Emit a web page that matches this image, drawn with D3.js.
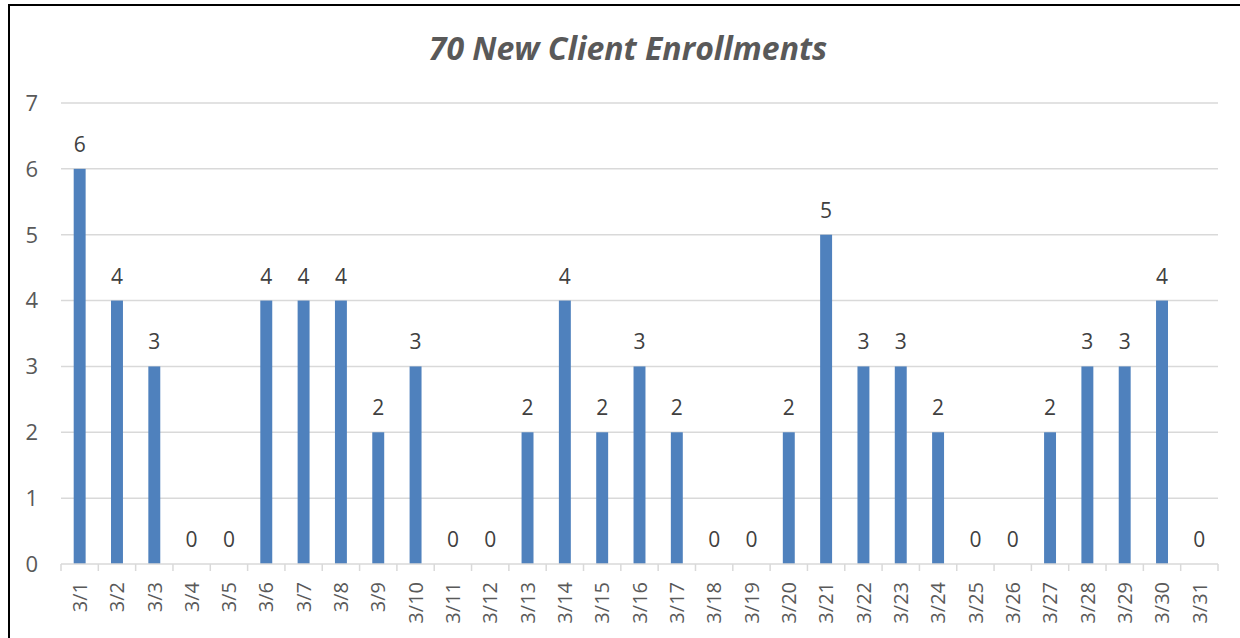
<!DOCTYPE html>
<html>
<head>
<meta charset="utf-8">
<script src="https://cdn.jsdelivr.net/npm/d3@7"></script>
<style>
  body { margin: 0; background: #fff; }
  svg { display: block; }
</style>
</head>
<body>
<svg id="chart"></svg>
<script>
var days = ["3/1","3/2","3/3","3/4","3/5","3/6","3/7","3/8","3/9","3/10",
            "3/11","3/12","3/13","3/14","3/15","3/16","3/17","3/18","3/19","3/20",
            "3/21","3/22","3/23","3/24","3/25","3/26","3/27","3/28","3/29","3/30","3/31"];
var enrollments = [6,4,3,0,0,4,4,4,2,3,
                   0,0,2,4,2,3,2,0,0,2,
                   5,3,3,2,0,0,2,3,3,4,0];
var yTicks = [0,1,2,3,4,5,6,7];
var title = "70 New Client Enrollments";

var screen = { width: 1240, height: 638 };
var margins = { top: 103, bottom: 74, left: 61, right: 22 };

var drawChart = function(idName, screen, margins)
{
  var graphWidth = screen.width - margins.left - margins.right;
  var graphHeight = screen.height - margins.top - margins.bottom;

  var svg = d3.select(idName)
      .attr("width", screen.width)
      .attr("height", screen.height);

  // frame
  svg.append("line")
      .attr("x1", 9).attr("x2", 9).attr("y1", 4).attr("y2", screen.height)
      .attr("stroke", "#000").attr("stroke-width", 2);
  svg.append("line")
      .attr("x1", 8).attr("x2", screen.width).attr("y1", 5).attr("y2", 5)
      .attr("stroke", "#000").attr("stroke-width", 2);

  svg.append("text")
      .attr("x", 628).attr("y", 60)
      .attr("text-anchor", "middle")
      .attr("font-family", "'Open Sans', sans-serif")
      .attr("font-size", 32)
      .attr("font-weight", "bold")
      .attr("font-style", "italic")
      .attr("fill", "#595959")
      .text(title);

  var x = d3.scaleBand()
      .domain(days)
      .range([0, graphWidth])
      .paddingInner(0.68)
      .paddingOuter(0.34);

  var y = d3.scaleLinear()
      .domain([0, 7])
      .range([graphHeight, 0]);

  var g = svg.append("g")
      .attr("transform", "translate(" + margins.left + "," + margins.top + ")");

  // gridlines
  g.append("g")
    .selectAll("line")
    .data(yTicks.filter(d => d > 0))
    .join("line")
      .attr("x1", 0).attr("x2", graphWidth)
      .attr("y1", d => y(d)).attr("y2", d => y(d))
      .attr("stroke", "#d9d9d9").attr("stroke-width", 1.5);

  // y labels
  g.append("g")
    .selectAll("text")
    .data(yTicks)
    .join("text")
      .attr("x", -23)
      .attr("y", d => y(d))
      .attr("dy", "0.36em")
      .attr("text-anchor", "end")
      .attr("font-family", "'Open Sans', sans-serif")
      .attr("font-size", 22)
      .attr("fill", "#595959")
      .text(d => d);

  // bars
  g.append("g")
    .selectAll("rect")
    .data(enrollments)
    .join("rect")
      .attr("x", (d, i) => x(days[i]))
      .attr("y", d => y(d))
      .attr("width", x.bandwidth())
      .attr("height", d => y(0) - y(d))
      .attr("fill", "#4f81bd");

  // data labels
  g.append("g")
    .selectAll("text")
    .data(enrollments)
    .join("text")
      .attr("x", (d, i) => x(days[i]) + x.bandwidth() / 2)
      .attr("y", d => y(d) - 17)
      .attr("text-anchor", "middle")
      .attr("font-family", "'Open Sans', sans-serif")
      .attr("font-size", 21)
      .attr("fill", "#404040")
      .text(d => d);

  // x axis
  var step = x.step();
  var ax = g.append("g")
      .attr("transform", "translate(0," + graphHeight + ")");
  ax.append("line")
      .attr("x1", 0).attr("x2", graphWidth)
      .attr("stroke", "#d9d9d9").attr("stroke-width", 1.5);
  ax.selectAll(".tick")
    .data(d3.range(days.length + 1))
    .join("line")
      .attr("x1", d => d * step).attr("x2", d => d * step)
      .attr("y1", 0).attr("y2", 7)
      .attr("stroke", "#d9d9d9").attr("stroke-width", 1.5);
  ax.selectAll("text")
    .data(days)
    .join("text")
      .attr("transform", d => "translate(" + (x(d) + x.bandwidth() / 2) + ",18) rotate(-90)")
      .attr("dy", "0.36em")
      .attr("text-anchor", "end")
      .attr("font-family", "'Open Sans', sans-serif")
      .attr("font-size", 20)
      .attr("fill", "#595959")
      .text(d => d);
}

drawChart("#chart", screen, margins);
</script>
</body>
</html>
